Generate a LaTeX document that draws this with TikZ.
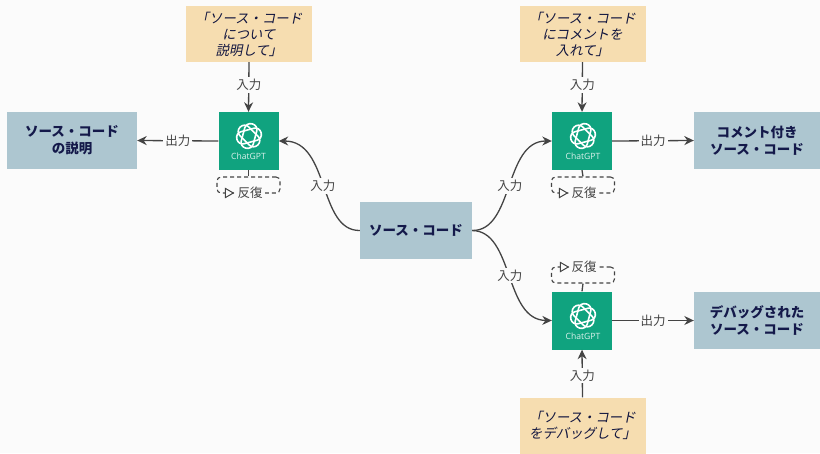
\documentclass[tikz,border=0pt]{standalone}
\usepackage{fontspec}
\setmainfont{Noto Sans CJK JP}
\newfontfamily\cjki[FakeSlant=0.2]{Noto Sans CJK JP}
\newfontfamily\latin{Open Sans}
\usetikzlibrary{shapes.geometric,arrows.meta,calc}
\definecolor{pagebg}{HTML}{FBFBFB}
\definecolor{teal}{HTML}{10A37F}
\definecolor{steel}{HTML}{ADC6D0}
\definecolor{sand}{HTML}{F6DDB0}
\definecolor{navy}{HTML}{14194A}
\definecolor{ink}{HTML}{444444}
\tikzset{
  x=1pt,y=-1pt,
  promptbox/.style={fill=sand,draw=none,minimum width=126pt,minimum height=56pt,inner sep=0pt,align=center,text=navy!85!black,font=\cjki\fontsize{13.4}{16}\selectfont},
  resultbox/.style={fill=steel,draw=none,minimum height=57pt,inner sep=0pt,align=center,text=navy,font=\bfseries\fontsize{13.5}{17}\selectfont},
  gptbox/.style={fill=teal,draw=none,minimum width=60pt,minimum height=58pt,inner sep=0pt},
  gpttext/.style={text=white!85!teal,font=\latin\fontsize{8.6}{10}\selectfont,inner sep=0pt},
  conn/.style={draw=ink,line width=1.3pt,-{Stealth[length=9.5pt,width=9pt]}},
  plainconn/.style={draw=ink,line width=1.3pt},
  lbl/.style={fill=pagebg,text=ink,inner sep=2pt,font=\fontsize{12.5}{14}\selectfont},
  loopbox/.style={draw=ink,line width=1.1pt,dash pattern=on 4pt off 3pt,rounded corners=4pt,minimum width=63pt,minimum height=16pt,inner sep=0pt},
  looptri/.style={isosceles triangle,isosceles triangle apex angle=60,draw=ink,line width=1pt,fill=pagebg,minimum size=8pt,inner sep=0pt},
  pics/gptlogo/.style={code={
    \foreach \a in {0,60,120}{
      \draw[white,line width=1.6pt,rotate=\a+15,rounded corners=5.8pt] (-12.5,-6.2) rectangle (12.5,6.2);
    }
  }}
}
\begin{document}
\begin{tikzpicture}
\useasboundingbox (0,0) rectangle (820,453);
\fill[pagebg] (0,0) rectangle (820,453);

% boxes
\node[resultbox,minimum width=112pt] (src) at (416,230.5) {ソース・コード};
\node[gptbox] (gptA) at (248.5,141) {};
\node[gptbox] (gptB) at (582,141) {};
\node[gptbox] (gptC) at (582,320.5) {};
\pic at (249,136) {gptlogo};
\pic at (583,136) {gptlogo};
\pic at (583,316) {gptlogo};
\node[gpttext] (tA) at (248.5,156) {ChatGPT};
\node[gpttext] (tB) at (583,156) {ChatGPT};
\node[gpttext] (tC) at (583,336) {ChatGPT};

\node[promptbox] (pA) at (249,34) {「ソース・コード\\について\\説明して」};
\node[promptbox] (pB) at (582.5,34) {「ソース・コード\\にコメントを\\入れて」};
\node[promptbox] (pC) at (582.5,425.5) {「ソース・コード\\をデバッグして」};

\node[resultbox,minimum width=130pt] (rA) at (72,140.5) {ソース・コード\\の説明};
\node[resultbox,minimum width=126pt] (rB) at (757,140.5) {コメント付き\\ソース・コード};
\node[resultbox,minimum width=126pt] (rC) at (757,320.5) {デバッグされた\\ソース・コード};

% loops
\node[loopbox] (lA) at (248.5,185) {};
\node[loopbox] (lB) at (583,185) {};
\node[loopbox] (lC) at (583,275) {};
\draw[plainconn] (gptA.south) -- (lA.north);
\draw[plainconn] (gptB.south) -- (lB.north);
\draw[plainconn] (gptC.north) -- (lC.south);
\node[lbl] (loA) at (250,193) {反復};
\node[lbl] (loB) at (584,193) {反復};
\node[lbl] (loC) at (584,267) {反復};
\node[looptri] (trA) at (228,193) {};
\node[looptri] (trB) at (562,193) {};
\node[looptri] (trC) at (563,267) {};

% inputs from prompts
\draw[conn] (pA.south) -- node[lbl,pos=.46] (iA) {入力} (gptA.north);
\draw[conn] (pB.south) -- node[lbl,pos=.46] (iB) {入力} (gptB.north);
\draw[conn] (pC.north) -- node[lbl,pos=.46] (iC) {入力} (gptC.south);

% outputs
\draw[conn] (gptA.west) -- node[lbl] (oA) {出力} (rA.east);
\draw[conn] (gptB.east) -- node[lbl] (oB) {出力} (rB.west);
\draw[conn] (gptC.east) -- node[lbl] (oC) {出力} (rC.west);

% source curves
\draw[conn] (src.west) .. controls (318,231) and (330,141) .. node[lbl,pos=.5] (sA) {入力} (gptA.east);
\draw[conn] (src.east) .. controls (514,231) and (504,141) .. node[lbl,pos=.5] (sB) {入力} (gptB.west);
\draw[conn] (src.east) .. controls (514,231) and (504,320) .. node[lbl,pos=.5] (sC) {入力} (gptC.west);
\end{tikzpicture}
\end{document}
